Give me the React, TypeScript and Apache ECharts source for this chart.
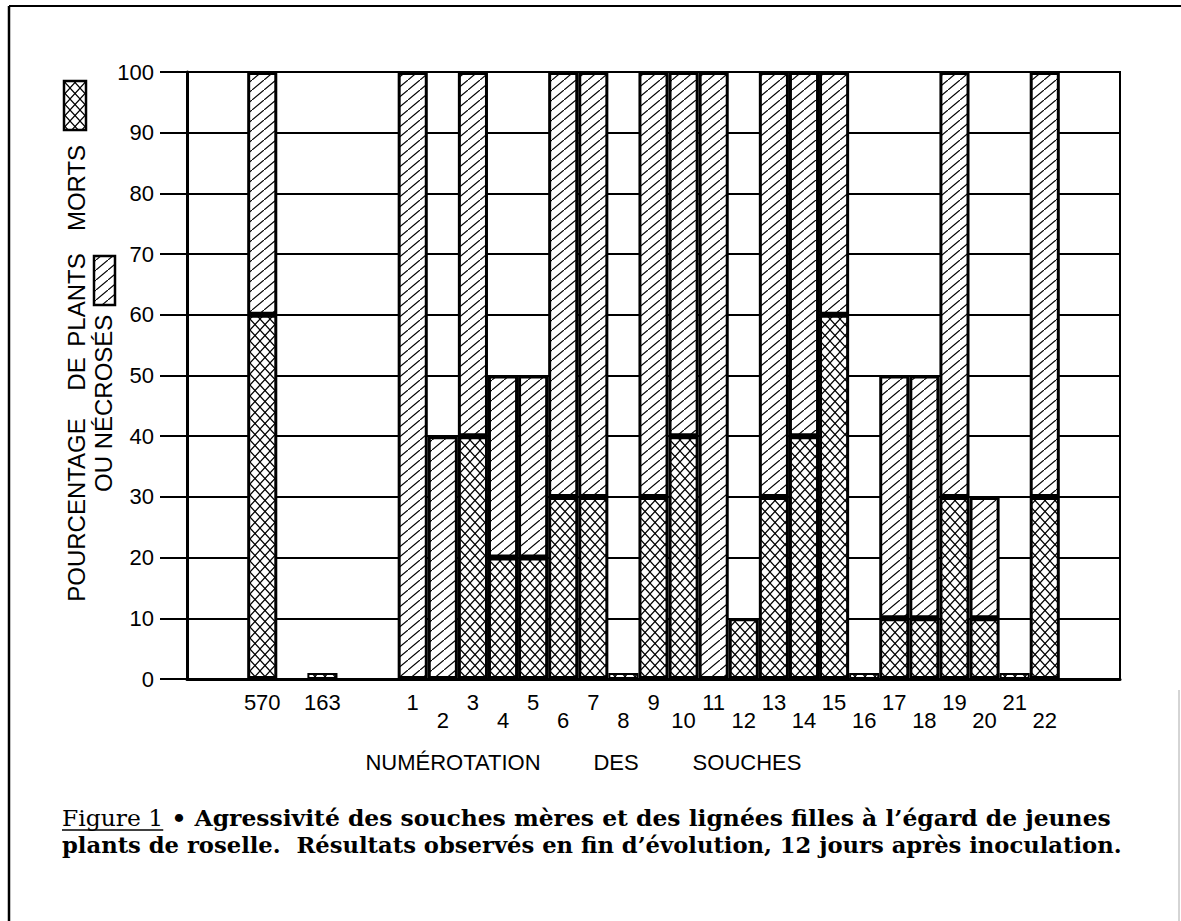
import React, { useEffect, useRef } from 'react';
import * as echarts from 'echarts';

// Slots of the category axis (blank slots are the gaps of the original figure)
const axisSlots = [
  '', '', '570', '', '163', '', '',
  '1', '2', '3', '4', '5', '6', '7', '8', '9', '10', '11',
  '12', '13', '14', '15', '16', '17', '18', '19', '20', '21', '22',
  '', '',
];
const strains = ['570', '163', '1', '2', '3', '4', '5', '6', '7', '8', '9', '10', '11',
  '12', '13', '14', '15', '16', '17', '18', '19', '20', '21', '22'];
// % of dead plants (cross-hatched)
const deadPct = [60, 1, 0, 0, 40, 20, 20, 30, 30, 1, 30, 40, 0, 10, 30, 40, 60, 1, 10, 10, 30, 10, 1, 30];
// % of necrosed plants (diagonal hatching), stacked above the dead ones
const necrosedPct = [40, 0, 100, 40, 60, 30, 30, 70, 70, 0, 70, 60, 100, 0, 70, 60, 40, 0, 40, 40, 70, 20, 0, 70];
const yTicks = [0, 10, 20, 30, 40, 50, 60, 70, 80, 90, 100];

const yTitle1 = ['POURCENTAGE', 'DE', 'PLANTS', 'MORTS'];
const yTitle2 = ['OU', 'NÉCROSÉS'];
const xTitle = ['NUMÉROTATION', 'DES', 'SOUCHES'];
const capFig = 'Figure 1';
const capLine1 = ' • Agressivité des souches mères et des lignées filles à l’égard de jeunes';
const capLine2 = 'plants de roselle.  Résultats observés en fin d’évolution, 12 jours après inoculation.';

function makePattern(kind: 'diag' | 'cross') {
  const c = document.createElement('canvas');
  const w = kind === 'diag' ? 12 : 10;
  const h = kind === 'diag' ? 10 : 11;
  c.width = w;
  c.height = h;
  const ctx = c.getContext('2d')!;
  ctx.fillStyle = '#fff';
  ctx.fillRect(0, 0, w, h);
  ctx.strokeStyle = '#000';
  ctx.lineWidth = 1.2;
  ctx.beginPath();
  ctx.moveTo(-w, 2 * h);
  ctx.lineTo(2 * w, -h);
  if (kind === 'cross') {
    ctx.moveTo(-w, -h);
    ctx.lineTo(2 * w, 2 * h);
  }
  ctx.stroke();
  return c;
}

function slotData(vals: number[]) {
  return axisSlots.map((s) => {
    if (!s) return '-';
    const i = strains.indexOf(s);
    const v = vals[i];
    if (!(v > 0)) return '-';
    return v < 5 ? { value: v, itemStyle: { borderWidth: 2 } } : v;
  });
}

export default function App() {
  const ref = useRef<HTMLDivElement>(null);
  useEffect(() => {
    if (!ref.current) return;
    const chart = echarts.init(ref.current, undefined, { renderer: 'svg' });
    const diag = { image: makePattern('diag'), repeat: 'repeat' };
    const cross = { image: makePattern('cross'), repeat: 'repeat' };

    const mc = document.createElement('canvas').getContext('2d')!;
    const measure = (t: string, f: string) => { mc.font = f; return mc.measureText(t).width; };
    const capSize = 23;
    const capFam = '"DejaVu Serif"';
    const fReg = `${capSize}px ${capFam}`;
    const fBold = `bold ${capSize}px ${capFam}`;
    const capX = 62;
    const wFig = measure(capFig, fReg);
    const w1 = measure(capLine1, fBold);
    const w2 = measure(capLine2, fBold);
    const s1 = (1111 - capX) / (wFig + w1);
    const s2 = (1122 - capX) / w2;
    const cap1Y = 818;
    const cap2Y = 845;

    const sansFont = 'Liberation Sans';

    const graphic: any[] = [
      // page frame
      { type: 'line', shape: { x1: 9, y1: 6, x2: 1181, y2: 6 }, style: { stroke: '#000', lineWidth: 2 } },
      { type: 'line', shape: { x1: 9, y1: 6, x2: 9, y2: 921 }, style: { stroke: '#000', lineWidth: 2.5 } },
      { type: 'line', shape: { x1: 1179, y1: 690, x2: 1179, y2: 921 }, style: { stroke: '#aaa', lineWidth: 1 } },
      // y title line 1
      ...yTitle1.map((w, i) => ({
        type: 'text', x: 76, y: [510, 374, 300, 188][i], rotation: Math.PI / 2,
        style: { text: w, fontSize: 24, fontFamily: sansFont, fill: '#000', align: 'center', verticalAlign: 'middle' },
      })),
      ...yTitle2.map((w, i) => ({
        type: 'text', x: 103, y: [474, 382][i], rotation: Math.PI / 2,
        style: { text: w, fontSize: 24, fontFamily: sansFont, fill: '#000', align: 'center', verticalAlign: 'middle' },
      })),
      // legend boxes
      { type: 'rect', shape: { x: 64, y: 81, width: 22, height: 49 }, style: { fill: cross, stroke: '#000', lineWidth: 2.5 } },
      { type: 'rect', shape: { x: 94, y: 256, width: 21, height: 49 }, style: { fill: diag, stroke: '#000', lineWidth: 2.5 } },
      // x title
      ...xTitle.map((w, i) => ({
        type: 'text', x: [453, 616, 747][i], y: 762,
        style: { text: w, fontSize: 22, fontFamily: sansFont, fill: '#000', align: 'center', verticalAlign: 'middle' },
      })),
      // caption
      { type: 'text', x: capX, y: cap1Y, scaleX: s1, style: { text: capFig, font: fReg, fill: '#000', align: 'left', verticalAlign: 'middle' } },
      { type: 'line', shape: { x1: capX, y1: cap1Y + 12, x2: capX + wFig * s1, y2: cap1Y + 12 }, style: { stroke: '#000', lineWidth: 1.5 } },
      { type: 'text', x: capX + wFig * s1, y: cap1Y, scaleX: s1, style: { text: capLine1, font: fBold, fill: '#000', align: 'left', verticalAlign: 'middle' } },
      { type: 'text', x: capX, y: cap2Y, scaleX: s2, style: { text: capLine2, font: fBold, fill: '#000', align: 'left', verticalAlign: 'middle' } },
    ];

    chart.setOption({
      animation: false,
      backgroundColor: '#fff',
      grid: { left: 187, right: 61, top: 72, bottom: 242, show: true, borderColor: '#000', borderWidth: 2, backgroundColor: 'transparent' },
      xAxis: {
        type: 'category',
        data: axisSlots,
        axisLine: { show: true, lineStyle: { color: '#000', width: 3 } },
        axisTick: { show: false },
        axisLabel: {
          interval: 0,
          color: '#000',
          fontFamily: sansFont,
          fontSize: 22,
          lineHeight: 18,
          margin: 14,
          formatter: (v: string) => {
            if (!v) return '';
            const n = Number(v);
            return n <= 22 && n % 2 === 0 ? '\n' + v : v;
          },
        },
        splitLine: { show: false },
      },
      yAxis: {
        type: 'value',
        min: yTicks[0],
        max: yTicks[yTicks.length - 1],
        interval: 10,
        axisLine: { show: true, lineStyle: { color: '#000', width: 3 } },
        axisTick: { show: true, inside: false, length: 27, lineStyle: { color: '#000', width: 2 } },
        axisLabel: { color: '#000', fontFamily: sansFont, fontSize: 22, margin: 33 },
        splitLine: { show: true, lineStyle: { color: '#000', width: 2 } },
      },
      series: [
        {
          type: 'bar', name: 'morts', stack: 's', data: slotData(deadPct),
          barWidth: '100%', barCategoryGap: '0%',
          itemStyle: { color: cross, borderColor: '#000', borderWidth: 3 },
        },
        {
          type: 'bar', name: 'nécrosés', stack: 's', data: slotData(necrosedPct),
          barWidth: '100%', barCategoryGap: '0%',
          itemStyle: { color: diag, borderColor: '#000', borderWidth: 3 },
        },
      ],
      graphic,
    });
    return () => chart.dispose();
  }, []);
  return (
    <div
      ref={ref}
      style={{ position: 'absolute', left: 0, top: 0, width: 1181, height: 921, background: '#fff' }}
    />
  );
}
